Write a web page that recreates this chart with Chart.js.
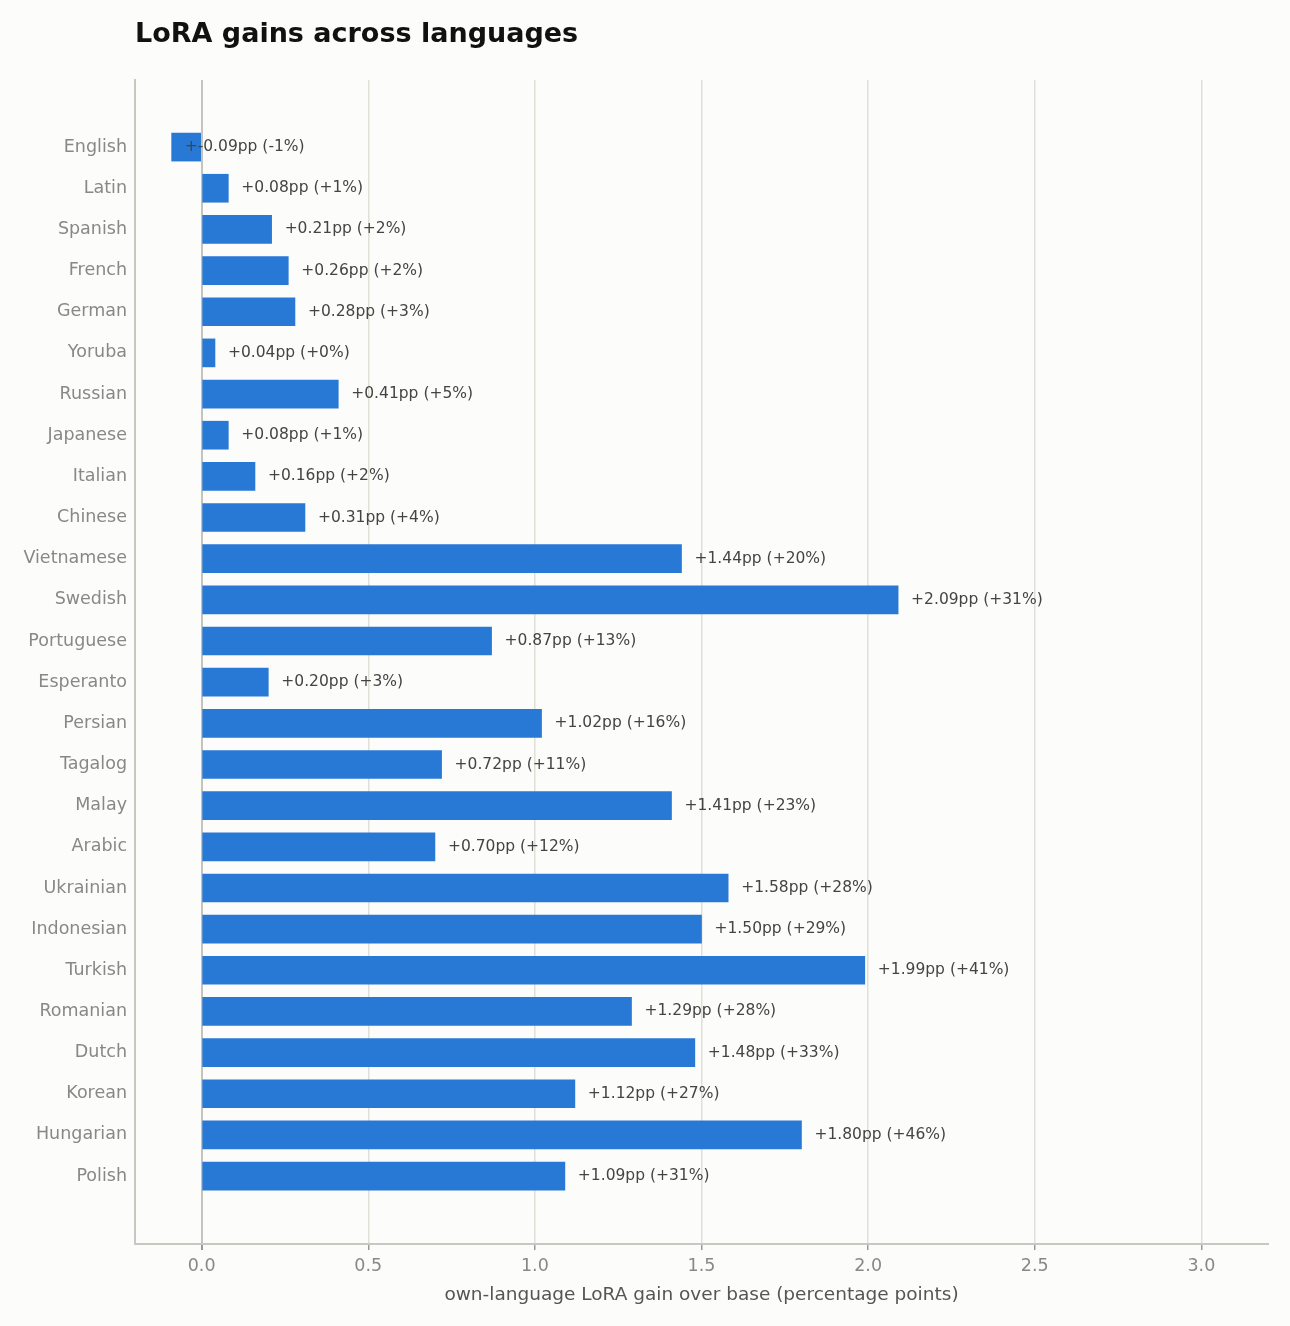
<!DOCTYPE html>
<html>
<head>
<meta charset="utf-8">
<script src="https://cdn.jsdelivr.net/npm/chart.js@4"></script>
<style>
  html, body { margin: 0; padding: 0; background: #fcfcfa; }
  #wrap { width: 1290px; height: 1326px; }
</style>
</head>
<body>
<div id="wrap"><canvas id="chart" width="1290" height="1326"></canvas></div>
<script>
// Languages, top to bottom
const languages = ['English', 'Latin', 'Spanish', 'French', 'German', 'Yoruba', 'Russian', 'Japanese',
  'Italian', 'Chinese', 'Vietnamese', 'Swedish', 'Portuguese', 'Esperanto', 'Persian', 'Tagalog',
  'Malay', 'Arabic', 'Ukrainian', 'Indonesian', 'Turkish', 'Romanian', 'Dutch', 'Korean',
  'Hungarian', 'Polish'];

// Gain in percentage points
const gains = [-0.09, 0.08, 0.21, 0.26, 0.28, 0.04, 0.41, 0.08, 0.16, 0.31, 1.44, 2.09, 0.87, 0.20,
  1.02, 0.72, 1.41, 0.70, 1.58, 1.50, 1.99, 1.29, 1.48, 1.12, 1.80, 1.09];

// Relative gain in percent
const relGains = [-1, 1, 2, 2, 3, 0, 5, 1, 2, 4, 20, 31, 13, 3, 16, 11, 23, 12, 28, 29, 41, 28, 33, 27, 46, 31];

const xTicks = [0, 0.5, 1.0, 1.5, 2.0, 2.5, 3.0];

const FONT = 'DejaVu Sans, sans-serif';

// Title and value labels
const annotate = {
  id: 'annotate',
  afterDatasetsDraw(chart) {
    const ctx = chart.ctx;
    const xs = chart.scales.x;
    const meta = chart.getDatasetMeta(0);
    ctx.save();
    ctx.font = '15.5px ' + FONT;
    ctx.fillStyle = '#444';
    ctx.textBaseline = 'middle';
    ctx.textAlign = 'left';
    meta.data.forEach((bar, i) => {
      const v = gains[i];
      const pct = (relGains[i] >= 0 ? '+' : '') + relGains[i];
      const text = '+' + v.toFixed(2) + 'pp (' + pct + '%)';
      ctx.fillText(text, xs.getPixelForValue(v) + 13, bar.y);
    });
    ctx.restore();
  },
  afterDraw(chart) {
    const ctx = chart.ctx;
    ctx.save();
    ctx.font = 'bold 27px ' + FONT;
    ctx.fillStyle = '#111';
    ctx.textBaseline = 'middle';
    ctx.fillText('LoRA gains across languages', 135, 35);
    ctx.restore();
  }
};

const bg = {
  id: 'bg',
  beforeDraw(chart) {
    const ctx = chart.ctx;
    ctx.save();
    ctx.fillStyle = '#fcfcfa';
    ctx.fillRect(0, 0, chart.width, chart.height);
    ctx.restore();
  }
};

new Chart(document.getElementById('chart'), {
  type: 'bar',
  data: {
    datasets: [{
      data: gains.map((v, i) => ({ x: v, y: i })),
      backgroundColor: '#2878d6',
      barThickness: 28,
      borderWidth: 0
    }]
  },
  options: {
    indexAxis: 'y',
    responsive: false,
    animation: false,
    layout: { padding: { left: 0, right: 22, top: 80, bottom: 20 } },
    plugins: {
      legend: { display: false },
      tooltip: { enabled: false }
    },
    scales: {
      x: {
        type: 'linear',
        min: -0.2,
        max: 3.2,
        afterBuildTicks(scale) { scale.ticks = xTicks.map(v => ({ value: v })); },
        afterFit(scale) { scale.height = 62; },
        grid: {
          color: ctx => ctx.tick && ctx.tick.value === 0 ? '#c4c4bc' : '#e0e0d8',
          lineWidth: ctx => ctx.tick && ctx.tick.value === 0 ? 2 : 1.5,
          tickLength: 6,
          tickColor: '#999'
        },
        border: { color: '#c8c8c0', width: 2 },
        ticks: {
          color: '#888',
          font: { family: FONT, size: 17.5 },
          padding: 6,
          callback: v => Number(v).toFixed(1)
        },
        title: {
          display: true,
          text: 'own-language LoRA gain over base (percentage points)',
          color: '#555',
          font: { family: FONT, size: 18.5 },
          padding: { top: 6, bottom: 0 }
        }
      },
      y: {
        type: 'linear',
        reverse: true,
        offset: false,
        min: -1.63,
        max: 26.65,
        afterBuildTicks(scale) { scale.ticks = languages.map((_, i) => ({ value: i })); },
        afterFit(scale) { scale.width = 135; },
        grid: { color: 'rgba(0,0,0,0)', drawTicks: false, offset: false },
        border: { color: '#c8c8c0', width: 2 },
        ticks: {
          color: '#888',
          font: { family: FONT, size: 17.5 },
          padding: 8,
          autoSkip: false,
          callback: v => languages[v] || ''
        }
      }
    }
  },
  plugins: [bg, annotate]
});
</script>
</body>
</html>
